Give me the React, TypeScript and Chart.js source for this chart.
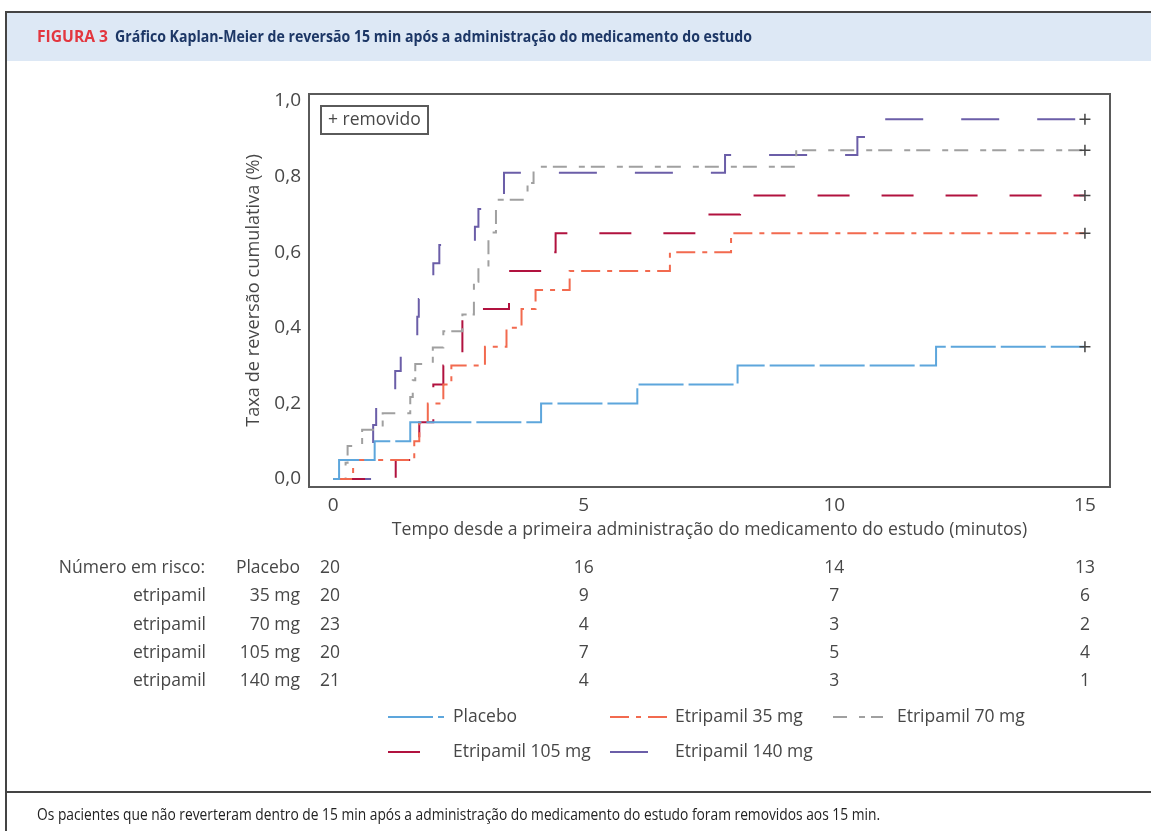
import React, { useEffect, useRef } from 'react';
import { Chart, registerables } from 'chart.js';
Chart.register(...registerables);

// ---- Data ----
const xTicks = [0, 5, 10, 15];
const yTicks = [0, 0.2, 0.4, 0.6, 0.8, 1.0];

const seriesLabels = ['Placebo', 'Etripamil 35 mg', 'Etripamil 70 mg', 'Etripamil 105 mg', 'Etripamil 140 mg'];

const placeboTimes = [0, 0.12, 0.83, 1.54, 4.15, 6.07, 8.07, 12.03, 15];
const placeboValues = [0, 0.05, 0.10, 0.15, 0.20, 0.25, 0.30, 0.35, 0.35];

const e35Times = [0, 0.4, 1.62, 1.72, 1.89, 2.2, 2.36, 3.03, 3.46, 3.76, 4.04, 4.72, 6.72, 7.94, 15];
const e35Values = [0, 0.05, 0.10, 0.15, 0.20, 0.25, 0.30, 0.35, 0.40, 0.45, 0.50, 0.55, 0.60, 0.65, 0.65];

const e70Times = [0, 0.25, 0.29, 0.58, 0.99, 1.54, 1.59, 1.64, 1.99, 2.2, 2.58, 2.81, 2.9, 3.1, 3.25, 3.88, 4.0, 9.24, 15];
const e70Values = [0, 0.043, 0.087, 0.130, 0.174, 0.217, 0.261, 0.304, 0.348, 0.391, 0.435, 0.522, 0.565, 0.652, 0.739, 0.783, 0.826, 0.870, 0.870];

const e105Times = [0, 1.25, 1.72, 2.0, 2.2, 2.58, 3.51, 4.16, 4.44, 7.3, 8.12, 15];
const e105Values = [0, 0.05, 0.15, 0.25, 0.30, 0.45, 0.55, 0.60, 0.65, 0.70, 0.75, 0.75];

const e140Times = [0, 0.8, 0.86, 1.24, 1.35, 1.68, 1.71, 2.0, 2.12, 2.83, 2.9, 3.41, 7.82, 10.46, 10.85, 15];
const e140Values = [0, 0.143, 0.190, 0.286, 0.333, 0.429, 0.476, 0.571, 0.619, 0.667, 0.714, 0.810, 0.857, 0.905, 0.952, 0.952];

const riskLeftLabels = ['Número em risco:', 'etripamil', 'etripamil', 'etripamil', 'etripamil'];
const riskRightLabels = ['Placebo', '35 mg', '70 mg', '105 mg', '140 mg'];
const riskPlacebo = [20, 16, 14, 13];
const risk35 = [20, 9, 7, 6];
const risk70 = [23, 4, 3, 2];
const risk105 = [20, 7, 5, 4];
const risk140 = [21, 4, 3, 1];

const headerLabel = 'FIGURA 3';
const headerTitle = 'Gráfico Kaplan-Meier de reversão 15 min após a administração do medicamento do estudo';
const footerText = 'Os pacientes que não reverteram dentro de 15 min após a administração do medicamento do estudo foram removidos aos 15 min.';
const xTitle = 'Tempo desde a primeira administração do medicamento do estudo (minutos)';
const yTitle = 'Taxa de reversão cumulativa (%)';
const censorNote = '+ removido';

// ---- Styles ----
const colors = ['#5DA6DC', '#F26A4F', '#A0A0A0', '#B1123F', '#6B5EA8'];
const dashes = [[45, 5], [19, 7, 5, 7], [14, 12, 6, 6], [32, 32], [38, 38]];
const FONT = "'Open Sans', 'Noto Sans', sans-serif";
const TEXT = '#474747';

const legendItems = [
  { row: 0, x0: 388, x1: 444, tx: 453 },
  { row: 0, x0: 610, x1: 667, tx: 675 },
  { row: 0, x0: 833, x1: 883, tx: 897 },
  { row: 1, x0: 388, x1: 420, tx: 453 },
  { row: 1, x0: 610, x1: 648, tx: 675 },
];

function fitText(ctx: CanvasRenderingContext2D, text: string, x: number, y: number, w: number) {
  const m = ctx.measureText(text).width;
  ctx.save();
  ctx.translate(x, y);
  ctx.scale(w / m, 1);
  ctx.fillText(text, 0, 0);
  ctx.restore();
}

const decor = {
  id: 'decor',
  afterDraw(chart: any) {
    const ctx: CanvasRenderingContext2D = chart.ctx;
    const ca = chart.chartArea;
    const xs = chart.scales.x;
    ctx.save();
    // header band
    ctx.fillStyle = '#DDE8F5';
    ctx.fillRect(6, 12, 1151, 49);
    ctx.strokeStyle = '#444';
    ctx.lineWidth = 2;
    ctx.beginPath();
    ctx.moveTo(5, 12); ctx.lineTo(1151, 12);
    ctx.moveTo(6, 12); ctx.lineTo(6, 831);
    ctx.moveTo(5, 792); ctx.lineTo(1151, 792);
    ctx.stroke();
    ctx.textBaseline = 'middle';
    ctx.textAlign = 'left';
    ctx.font = `bold 16.5px ${FONT}`;
    ctx.fillStyle = '#E3363F';
    fitText(ctx, headerLabel, 37, 37, 71);
    ctx.fillStyle = '#1D3766';
    fitText(ctx, headerTitle, 115, 37, 637);
    // footer
    ctx.font = `15.5px ${FONT}`;
    ctx.fillStyle = '#222';
    fitText(ctx, footerText, 37, 816, 843);

    // plot frame
    ctx.strokeStyle = '#5a5a5a';
    ctx.lineWidth = 2;
    ctx.strokeRect(ca.left, ca.top, ca.right - ca.left, ca.bottom - ca.top);
    // censor note box
    ctx.strokeRect(321, 106, 107, 28);
    ctx.font = `17.5px ${FONT}`;
    ctx.fillStyle = TEXT;
    ctx.fillText(censorNote, 328, 120);

    // risk table
    const risks = [riskPlacebo, risk35, risk70, risk105, risk140];
    ctx.font = `17.5px ${FONT}`;
    ctx.fillStyle = TEXT;
    for (let r = 0; r < 5; r++) {
      const y = 568 + r * 28.3;
      ctx.textAlign = 'right';
      ctx.fillText(riskLeftLabels[r], r === 0 ? 205 : 206, y);
      ctx.fillText(riskRightLabels[r], 300, y);
      ctx.textAlign = 'center';
      risks[r].forEach((v, i) => {
        ctx.fillText(String(v), xs.getPixelForValue(xTicks[i]) - (i === 0 ? 3 : 0), y);
      });
    }

    // legend
    ctx.textAlign = 'left';
    chart.data.datasets.forEach((ds: any, i: number) => {
      const it = legendItems[i];
      const y = 717 + it.row * 35;
      ctx.save();
      ctx.strokeStyle = ds.borderColor;
      ctx.lineWidth = 2;
      ctx.setLineDash(ds.borderDash);
      ctx.beginPath();
      ctx.moveTo(it.x0, y);
      ctx.lineTo(it.x1, y);
      ctx.stroke();
      ctx.restore();
      ctx.fillStyle = TEXT;
      ctx.fillText(ds.label, it.tx, y);
    });
    ctx.restore();
  },
};

export default function App() {
  const ref = useRef<HTMLCanvasElement>(null);
  useEffect(() => {
    const seriesTimes = [placeboTimes, e35Times, e70Times, e105Times, e140Times];
    const seriesValues = [placeboValues, e35Values, e70Values, e105Values, e140Values];
    const datasets = seriesLabels.map((label, k) => {
      const times = seriesTimes[k];
      const vals = seriesValues[k];
      return {
        label,
        data: times.map((t, i) => ({ x: t, y: vals[i] })),
        borderColor: colors[k],
        backgroundColor: colors[k],
        borderWidth: 2,
        borderDash: dashes[k],
        borderCapStyle: 'butt',
        borderJoinStyle: 'miter',
        stepped: 'before',
        fill: false,
        pointStyle: 'cross',
        pointRadius: (c: any) => (c.dataIndex === times.length - 1 ? 5.5 : 0),
        pointHoverRadius: 0,
        pointBorderColor: '#444',
        pointBackgroundColor: '#444',
        pointBorderWidth: 1.5,
      };
    });
    const chart = new Chart(ref.current!, {
      type: 'line',
      data: { datasets: datasets as any },
      options: {
        animation: false,
        responsive: false,
        events: [],
        layout: { padding: { left: 230, right: 41, top: 94, bottom: 289 } },
        plugins: { legend: { display: false }, tooltip: { enabled: false } },
        font: { family: FONT } as any,
        scales: {
          x: {
            type: 'linear',
            min: -0.48,
            max: 15.5,
            afterBuildTicks: (s: any) => { s.ticks = xTicks.map((v) => ({ value: v })); },
            afterFit: (s: any) => { s.height = 55; },
            grid: { display: false, drawTicks: false },
            border: { display: false },
            ticks: { padding: 7, autoSkip: false, maxRotation: 0, color: TEXT, font: { size: 19, family: FONT }, callback: (v: any) => String(v) },
            title: { display: true, text: xTitle, color: TEXT, font: { size: 17.6, family: FONT }, padding: { top: 0, bottom: 1 } },
          },
          y: {
            type: 'linear',
            min: -0.0212,
            max: 1.0185,
            afterBuildTicks: (s: any) => { s.ticks = yTicks.map((v) => ({ value: v })); },
            afterFit: (s: any) => { s.width = 79; },
            grid: { display: false, drawTicks: false },
            border: { display: false },
            ticks: { padding: 8, autoSkip: false, color: TEXT, font: { size: 19, family: FONT }, callback: (v: any) => Number(v).toFixed(1).replace('.', ',') },
            title: { display: true, text: yTitle, color: TEXT, font: { size: 18.2, family: FONT }, padding: { top: 13, bottom: 0 } },
          },
        },
      },
      plugins: [decor],
    });
    return () => chart.destroy();
  }, []);
  return (
    <div style={{ position: 'absolute', left: 0, top: 0, width: 1151, height: 831, background: '#fff' }}>
      <canvas ref={ref} width={1151} height={831} style={{ display: 'block' }} />
    </div>
  );
}
